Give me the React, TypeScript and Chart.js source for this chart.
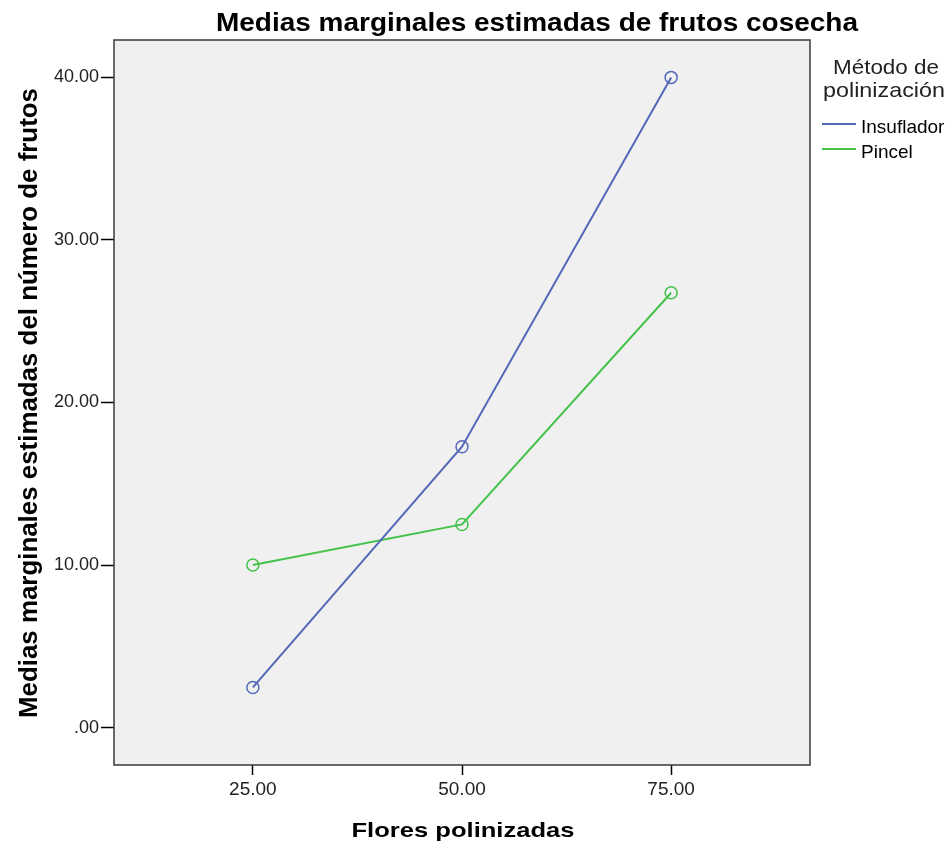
import React, { useEffect, useRef } from "react";
import { Chart, registerables } from "chart.js";

Chart.register(...registerables);

const flores = [25, 50, 75];
const insuflador = [2.47, 17.28, 40.0];
const pincel = [10.0, 12.5, 26.75];
const xTicks = [25, 50, 75];
const yTicks = [0, 10, 20, 30, 40];
const seriesNames = ["Insuflador", "Pincel"];
const seriesColors = ["#5468b8", "#44c24a"];
const titleText = "Medias marginales estimadas de frutos cosecha";
const xTitle = "Flores polinizadas";
const yTitle = "Medias marginales estimadas del número de frutos";
const legendTitle = ["Método de", "polinización"];

const FAM = "'Liberation Sans', Arial, sans-serif";
const fmt = (v: number) => (v === 0 ? ".00" : v.toFixed(2));

function drawFit(ctx: CanvasRenderingContext2D, text: string, cx: number, by: number, font: string, width: number) {
  ctx.save();
  ctx.font = font;
  ctx.textAlign = "center";
  ctx.textBaseline = "alphabetic";
  const w = ctx.measureText(text).width;
  ctx.translate(cx, by);
  ctx.scale(width / w, 1);
  ctx.fillText(text, 0, 0);
  ctx.restore();
}

export default function App() {
  const ref = useRef<HTMLCanvasElement>(null);
  useEffect(() => {
    if (!ref.current) return;
    const decor = {
      id: "decor",
      beforeDraw(chart: any) {
        const { ctx, chartArea: a } = chart;
        ctx.save();
        ctx.fillStyle = "#f0f0f0";
        ctx.fillRect(a.left, a.top, a.right - a.left, a.bottom - a.top);
        ctx.restore();
      },
      afterDraw(chart: any) {
        const { ctx, chartArea: a } = chart;
        ctx.save();
        ctx.strokeStyle = "#3a3a3a";
        ctx.lineWidth = 1.5;
        ctx.strokeRect(a.left, a.top, a.right - a.left, a.bottom - a.top);
        ctx.fillStyle = "#000";
        drawFit(ctx, titleText, 537, 31, `bold 25px ${FAM}`, 642);
        drawFit(ctx, xTitle, 463, 837, `bold 21px ${FAM}`, 223);
        ctx.save();
        ctx.translate(37, 403);
        ctx.rotate(-Math.PI / 2);
        drawFit(ctx, yTitle, 0, 0, `bold 26px ${FAM}`, 630);
        ctx.restore();
        ctx.fillStyle = "#222";
        drawFit(ctx, legendTitle[0], 886, 74, `21px ${FAM}`, 106);
        drawFit(ctx, legendTitle[1], 884, 97, `21px ${FAM}`, 122);
        ctx.font = `19px ${FAM}`;
        ctx.textAlign = "left";
        ctx.textBaseline = "alphabetic";
        seriesNames.forEach((n, i) => {
          const y = 124 + i * 25;
          ctx.strokeStyle = seriesColors[i];
          ctx.lineWidth = 2;
          ctx.beginPath();
          ctx.moveTo(822, y);
          ctx.lineTo(856, y);
          ctx.stroke();
          ctx.fillStyle = "#000";
          ctx.fillText(n, 861, y + 9);
        });
        ctx.restore();
      },
    };
    const chart = new Chart(ref.current, {
      type: "line",
      data: {
        datasets: [
          {
            label: seriesNames[0],
            data: flores.map((x, i) => ({ x, y: insuflador[i] })),
            borderColor: seriesColors[0],
            backgroundColor: "rgba(0,0,0,0)",
            borderWidth: 2,
            pointRadius: 6,
            pointBorderWidth: 1.5,
            pointBackgroundColor: "rgba(0,0,0,0)",
            pointBorderColor: seriesColors[0],
          },
          {
            label: seriesNames[1],
            data: flores.map((x, i) => ({ x, y: pincel[i] })),
            borderColor: seriesColors[1],
            backgroundColor: "rgba(0,0,0,0)",
            borderWidth: 2,
            pointRadius: 6,
            pointBorderWidth: 1.5,
            pointBackgroundColor: "rgba(0,0,0,0)",
            pointBorderColor: seriesColors[1],
          },
        ],
      },
      options: {
        animation: false,
        responsive: false,
        maintainAspectRatio: false,
        layout: { padding: { left: 0, right: 139, top: 40, bottom: 0 } },
        plugins: { legend: { display: false }, title: { display: false }, tooltip: { enabled: false } },
        scales: {
          x: {
            type: "linear",
            min: 8.4,
            max: 91.6,
            afterBuildTicks: (s: any) => {
              s.ticks = xTicks.map((v) => ({ value: v }));
            },
            afterFit: (s: any) => {
              s.height = 79;
            },
            grid: { drawOnChartArea: false, drawTicks: true, tickLength: 10, color: "#000", tickWidth: 1.5 },
            border: { display: false },
            ticks: {
              color: "#222",
              padding: 3,
              maxRotation: 0,
              font: { size: 19, family: FAM },
              callback: (v: any) => fmt(Number(v)),
            },
          },
          y: {
            type: "linear",
            min: -2.3,
            max: 42.3,
            afterBuildTicks: (s: any) => {
              s.ticks = yTicks.map((v) => ({ value: v }));
            },
            afterFit: (s: any) => {
              s.width = 114;
            },
            grid: { drawOnChartArea: false, drawTicks: true, tickLength: 13, color: "#000", tickWidth: 1.5 },
            border: { display: false },
            ticks: {
              color: "#222",
              padding: 2,
              font: { size: 18, family: FAM },
              callback: (v: any) => fmt(Number(v)),
            },
          },
        },
      },
      plugins: [decor],
    } as any);
    return () => chart.destroy();
  }, []);
  return (
    <div style={{ position: "absolute", left: 0, top: 0, width: 949, height: 844, background: "#fff" }}>
      <canvas ref={ref} width={949} height={844} style={{ display: "block" }} />
    </div>
  );
}
